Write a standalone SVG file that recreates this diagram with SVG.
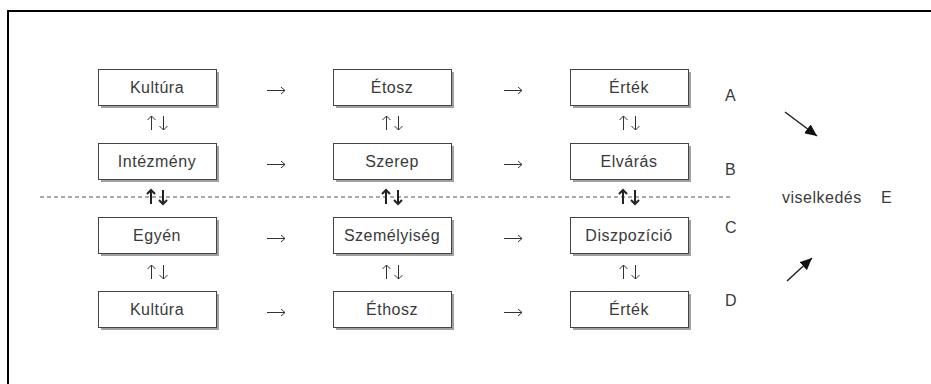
<svg xmlns="http://www.w3.org/2000/svg" width="931" height="384" viewBox="0 0 931 384">
<style>
.box{fill:#fff;stroke:#444;stroke-width:1}
.sh{fill:#a0a0a0}
.t{font-family:"Liberation Sans",Arial,sans-serif;font-size:16px;fill:#3a3a3a;text-anchor:middle;letter-spacing:0.5px}
.l{font-family:"Liberation Sans",Arial,sans-serif;font-size:16px;fill:#3a3a3a;letter-spacing:0.5px}
.a{fill:none;stroke:#333;stroke-width:1}
.ab{fill:none;stroke:#222;stroke-width:2}
.d{fill:none;stroke:#222;stroke-width:1.5}
</style>
<defs>
<marker id="tri" markerUnits="userSpaceOnUse" markerWidth="13" markerHeight="11" refX="12" refY="5.5" orient="auto">
<path d="M0,0 L12,5.5 L0,11 Z" fill="#111"/>
</marker>
</defs>
<rect x="0" y="0" width="931" height="384" fill="#fff"/>
<path d="M8,384 V11 H931" fill="none" stroke="#000" stroke-width="2"/>
<line x1="40" y1="197" x2="733" y2="197" stroke="#555" stroke-width="1" stroke-dasharray="4 3"/>

<g id="n-kultura-a"><rect class="sh" x="101" y="72" width="118" height="36"/><rect class="box" x="98.5" y="69.5" width="118" height="36"/><text class="t" x="157" y="93">Kultúra</text></g>
<g id="n-etosz"><rect class="sh" x="336" y="72" width="118" height="36"/><rect class="box" x="333.5" y="69.5" width="118" height="36"/><text class="t" x="392" y="93">Étosz</text></g>
<g id="n-ertek-a"><rect class="sh" x="573" y="72" width="118" height="36"/><rect class="box" x="570.5" y="69.5" width="118" height="36"/><text class="t" x="629" y="93">Érték</text></g>

<g id="n-intezmeny"><rect class="sh" x="101" y="146" width="118" height="36"/><rect class="box" x="98.5" y="143.5" width="118" height="36"/><text class="t" x="157" y="167">Intézmény</text></g>
<g id="n-szerep"><rect class="sh" x="336" y="146" width="118" height="36"/><rect class="box" x="333.5" y="143.5" width="118" height="36"/><text class="t" x="392" y="167">Szerep</text></g>
<g id="n-elvaras"><rect class="sh" x="573" y="146" width="118" height="36"/><rect class="box" x="570.5" y="143.5" width="118" height="36"/><text class="t" x="629" y="167">Elvárás</text></g>

<g id="n-egyen"><rect class="sh" x="101" y="220" width="118" height="36"/><rect class="box" x="98.5" y="217.5" width="118" height="36"/><text class="t" x="157" y="241">Egyén</text></g>
<g id="n-szemelyiseg"><rect class="sh" x="336" y="220" width="118" height="36"/><rect class="box" x="333.5" y="217.5" width="118" height="36"/><text class="t" x="392" y="241">Személyiség</text></g>
<g id="n-diszpozicio"><rect class="sh" x="573" y="220" width="118" height="36"/><rect class="box" x="570.5" y="217.5" width="118" height="36"/><text class="t" x="629" y="241">Diszpozíció</text></g>

<g id="n-kultura-d"><rect class="sh" x="101" y="294" width="118" height="36"/><rect class="box" x="98.5" y="291.5" width="118" height="36"/><text class="t" x="157" y="315">Kultúra</text></g>
<g id="n-ethosz"><rect class="sh" x="336" y="294" width="118" height="36"/><rect class="box" x="333.5" y="291.5" width="118" height="36"/><text class="t" x="392" y="315">Éthosz</text></g>
<g id="n-ertek-d"><rect class="sh" x="573" y="294" width="118" height="36"/><rect class="box" x="570.5" y="291.5" width="118" height="36"/><text class="t" x="629" y="315">Érték</text></g>

<g id="labels">
<text class="l" x="725" y="101">A</text>
<text class="l" x="725" y="175">B</text>
<text class="l" x="725" y="233">C</text>
<text class="l" x="725" y="306">D</text>
<text class="l" x="782" y="203">viselkedés</text>
<text class="l" x="881" y="203">E</text>
</g>

<g id="connectors">
<path class="a" d="M267,90.5 H285 M281,87 L285,90.5 L281,94"/>
<path class="a" d="M504,90.5 H522 M518,87 L522,90.5 L518,94"/>
<path class="a" d="M267,164.5 H285 M281,161 L285,164.5 L281,168"/>
<path class="a" d="M504,164.5 H522 M518,161 L522,164.5 L518,168"/>
<path class="a" d="M267,238.5 H285 M281,235 L285,238.5 L281,242"/>
<path class="a" d="M504,238.5 H522 M518,235 L522,238.5 L518,242"/>
<path class="a" d="M267,312.5 H285 M281,309 L285,312.5 L281,316"/>
<path class="a" d="M504,312.5 H522 M518,309 L522,312.5 L518,316"/>
<path class="a" d="M151.5,130 V116 M147.5,120 L151.5,116 L155.5,120 M163.5,116 V130 M159.5,126 L163.5,130 L167.5,126"/>
<path class="a" d="M386.5,130 V116 M382.5,120 L386.5,116 L390.5,120 M398.5,116 V130 M394.5,126 L398.5,130 L402.5,126"/>
<path class="a" d="M623.5,130 V116 M619.5,120 L623.5,116 L627.5,120 M635.5,116 V130 M631.5,126 L635.5,130 L639.5,126"/>
<path class="ab" d="M151,204 V190 M147,194 L151,190 L155,194 M163,190 V204 M159,200 L163,204 L167,200"/>
<path class="ab" d="M386,204 V190 M382,194 L386,190 L390,194 M398,190 V204 M394,200 L398,204 L402,200"/>
<path class="ab" d="M623,204 V190 M619,194 L623,190 L627,194 M635,190 V204 M631,200 L635,204 L639,200"/>
<path class="a" d="M151.5,279 V265 M147.5,269 L151.5,265 L155.5,269 M163.5,265 V279 M159.5,275 L163.5,279 L167.5,275"/>
<path class="a" d="M386.5,279 V265 M382.5,269 L386.5,265 L390.5,269 M398.5,265 V279 M394.5,275 L398.5,279 L402.5,275"/>
<path class="a" d="M623.5,279 V265 M619.5,269 L623.5,265 L627.5,269 M635.5,265 V279 M631.5,275 L635.5,279 L639.5,275"/>
<line class="d" x1="785" y1="112" x2="817" y2="136" marker-end="url(#tri)"/>
<line class="d" x1="787" y1="281" x2="812" y2="258" marker-end="url(#tri)"/>
</g>
</svg>
